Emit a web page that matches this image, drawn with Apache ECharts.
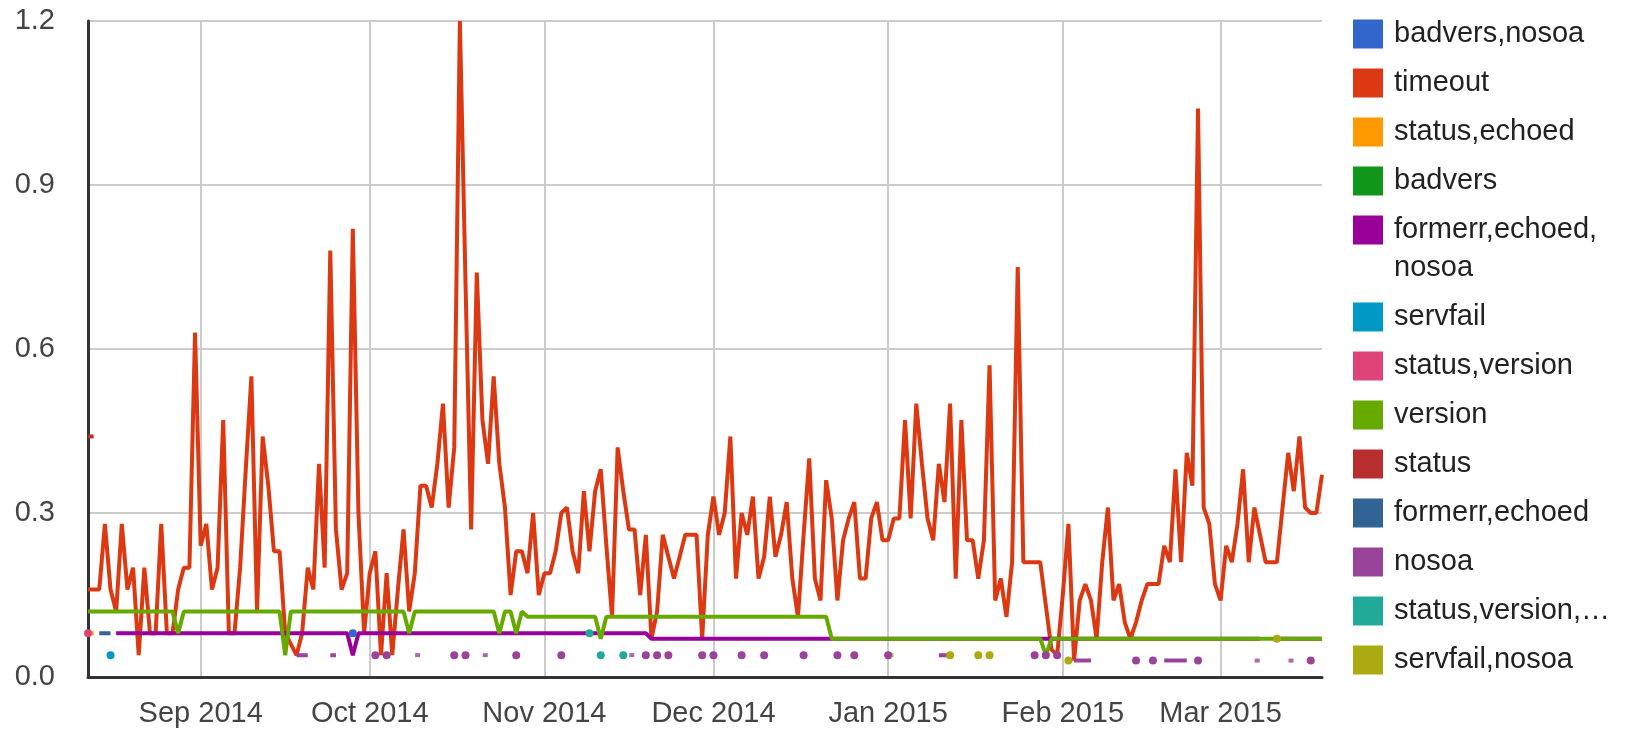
<!DOCTYPE html>
<html>
<head>
<meta charset="utf-8">
<script src="https://cdn.jsdelivr.net/npm/echarts@6.0.0/dist/echarts.min.js"></script>
<style>
html, body { margin: 0; padding: 0; background: #fff; }
#chart { width: 1626px; height: 732px; }
</style>
</head>
<body>
<div id="chart"></div>
<script>
// daily categories, 2014-08-12 .. 2015-03-19
const startDay = Date.UTC(2014, 7, 12);
const dayCount = 220;
const days = [];
for (let i = 0; i < dayCount; i++) {
    days.push(new Date(startDay + i * 86400000).toISOString().slice(0, 10));
}

const monthStarts = ['2014-09-01', '2014-10-01', '2014-11-01', '2014-12-01', '2015-01-01', '2015-02-01', '2015-03-01'];
const monthLabels = ['Sep 2014', 'Oct 2014', 'Nov 2014', 'Dec 2014', 'Jan 2015', 'Feb 2015', 'Mar 2015'];

const seriesNames = ['badvers,nosoa', 'timeout', 'status,echoed', 'badvers', 'formerr,echoed,nosoa',
    'servfail', 'status,version', 'version', 'status', 'formerr,echoed', 'nosoa',
    'status,version,\u2026', 'servfail,nosoa'];
const seriesColors = ['#3366cc', '#dc3912', '#ff9900', '#109618', '#990099', '#0099c6', '#dd4477',
    '#66aa00', '#b82e2e', '#316395', '#994499', '#22aa99', '#aaaa11'];

const timeout = [
    0.16, 0.16, 0.16, 0.28, 0.16, 0.12, 0.28, 0.16, 0.20, 0.04,
    0.20, 0.08, 0.08, 0.28, 0.08, 0.08, 0.16, 0.20, 0.20, 0.63,
    0.24, 0.28, 0.16, 0.20, 0.47, 0.08, 0.08, 0.20, 0.38, 0.55,
    0.12, 0.44, 0.35, 0.23, 0.23, 0.08, 0.06, 0.04, 0.08, 0.20,
    0.16, 0.39, 0.20, 0.78, 0.27, 0.16, 0.19, 0.82, 0.30, 0.08,
    0.19, 0.23, 0.04, 0.19, 0.04, 0.16, 0.27, 0.12, 0.19, 0.35,
    0.35, 0.31, 0.39, 0.50, 0.31, 0.42, 1.20, 0.72, 0.27, 0.74,
    0.47, 0.39, 0.55, 0.39, 0.31, 0.15, 0.23, 0.23, 0.19, 0.30,
    0.15, 0.19, 0.19, 0.23, 0.30, 0.31, 0.23, 0.19, 0.34, 0.23,
    0.34, 0.38, 0.24, 0.11, 0.42, 0.34, 0.27, 0.27, 0.15, 0.26,
    0.07, 0.12, 0.26, 0.22, 0.18, 0.22, 0.26, 0.26, 0.26, 0.07,
    0.26, 0.33, 0.26, 0.30, 0.44, 0.18, 0.30, 0.26, 0.33, 0.18,
    0.22, 0.33, 0.22, 0.26, 0.32, 0.18, 0.11, 0.26, 0.40, 0.18,
    0.14, 0.36, 0.29, 0.14, 0.25, 0.29, 0.32, 0.18, 0.18, 0.29,
    0.32, 0.25, 0.25, 0.29, 0.29, 0.47, 0.29, 0.50, 0.39, 0.29,
    0.25, 0.39, 0.32, 0.50, 0.18, 0.47, 0.25, 0.25, 0.18, 0.25,
    0.57, 0.14, 0.18, 0.11, 0.21, 0.75, 0.21, 0.21, 0.21, 0.21,
    0.13, 0.05, 0.04, 0.15, 0.28, 0.03, 0.14, 0.17, 0.14, 0.07,
    0.21, 0.31, 0.14, 0.17, 0.10, 0.07, 0.10, 0.14, 0.17, 0.17,
    0.17, 0.24, 0.21, 0.38, 0.21, 0.41, 0.35, 1.04, 0.31, 0.28,
    0.17, 0.14, 0.24, 0.21, 0.28, 0.38, 0.21, 0.31, 0.26, 0.21,
    0.21, 0.21, 0.31, 0.41, 0.34, 0.44, 0.31, 0.30, 0.30, 0.37
];

const version = [
    0.12, 0.12, 0.12, 0.12, 0.12, 0.12, 0.12, 0.12, 0.12, 0.12, 0.12, 0.12, 0.12, 0.12, 0.12, 0.12, 0.08, 0.12, 0.12, 0.12,
    0.12, 0.12, 0.12, 0.12, 0.12, 0.12, 0.12, 0.12, 0.12, 0.12, 0.12, 0.12, 0.12, 0.12, 0.12, 0.04, 0.12, 0.12, 0.12, 0.12,
    0.12, 0.12, 0.12, 0.12, 0.12, 0.12, 0.12, 0.12, 0.12, 0.12, 0.12, 0.12, 0.12, 0.12, 0.12, 0.12, 0.12, 0.08, 0.12, 0.12,
    0.12, 0.12, 0.12, 0.12, 0.12, 0.12, 0.12, 0.12, 0.12, 0.12, 0.12, 0.12, 0.12, 0.08, 0.12, 0.12, 0.08, 0.12, 0.11, 0.11,
    0.11, 0.11, 0.11, 0.11, 0.11, 0.11, 0.11, 0.11, 0.11, 0.11, 0.11, 0.07, 0.11, 0.11, 0.11, 0.11, 0.11, 0.11, 0.11, 0.11,
    0.11, 0.11, 0.11, 0.11, 0.11, 0.11, 0.11, 0.11, 0.11, 0.11, 0.11, 0.11, 0.11, 0.11, 0.11, 0.11, 0.11, 0.11, 0.11, 0.11,
    0.11, 0.11, 0.11, 0.11, 0.11, 0.11, 0.11, 0.11, 0.11, 0.11, 0.11, 0.11, 0.07, 0.07, 0.07, 0.07, 0.07, 0.07, 0.07, 0.07,
    0.07, 0.07, 0.07, 0.07, 0.07, 0.07, 0.07, 0.07, 0.07, 0.07, 0.07, 0.07, 0.07, 0.07, 0.07, 0.07, 0.07, 0.07, 0.07, 0.07,
    0.07, 0.07, 0.07, 0.07, 0.07, 0.07, 0.07, 0.07, 0.07, 0.07, 0.04, 0.07, 0.07, 0.07, 0.07, 0.07, 0.07, 0.07, 0.07, 0.07,
    0.07, 0.07, 0.07, 0.07, 0.07, 0.07, 0.07, 0.07, 0.07, 0.07, 0.07, 0.07, 0.07, 0.07, 0.07, 0.07, 0.07, 0.07, 0.07, 0.07,
    0.07, 0.07, 0.07, 0.07, 0.07, 0.07, 0.07, 0.07, 0.07, 0.07, 0.07, 0.07, 0.07, 0.07, 0.07, 0.07, 0.07, 0.07, 0.07, 0.07
];

const formerrEchoedNosoa = [
    null, null, null, null, null, 0.08, 0.08, 0.08, 0.08, 0.08, 0.08, 0.08, 0.08, 0.08, 0.08, 0.08, 0.08, 0.08, 0.08, 0.08,
    0.08, 0.08, 0.08, 0.08, 0.08, 0.08, 0.08, 0.08, 0.08, 0.08, 0.08, 0.08, 0.08, 0.08, 0.08, 0.08, 0.08, 0.08, 0.08, 0.08,
    0.08, 0.08, 0.08, 0.08, 0.08, 0.08, 0.08, 0.04, 0.08, 0.08, 0.08, 0.08, 0.08, 0.08, 0.08, 0.08, 0.08, 0.08, 0.08, 0.08,
    0.08, 0.08, 0.08, 0.08, 0.08, 0.08, 0.08, 0.08, 0.08, 0.08, 0.08, 0.08, 0.08, 0.08, 0.08, 0.08, 0.08, 0.08, 0.08, 0.08,
    0.08, 0.08, 0.08, 0.08, 0.08, 0.08, 0.08, 0.08, 0.08, 0.08, 0.08, 0.08, 0.08, 0.08, 0.08, 0.08, 0.08, 0.08, 0.08, 0.08,
    0.07, 0.07, 0.07, 0.07, 0.07, 0.07, 0.07, 0.07, 0.07, 0.07, 0.07, 0.07, 0.07, 0.07, 0.07, 0.07, 0.07, 0.07, 0.07, 0.07,
    0.07, 0.07, 0.07, 0.07, 0.07, 0.07, 0.07, 0.07, 0.07, 0.07, 0.07, 0.07, 0.07, 0.07, 0.07, 0.07, 0.07, 0.07, 0.07, 0.07,
    0.07, 0.07, 0.07, 0.07, 0.07, 0.07, 0.07, 0.07, 0.07, 0.07, 0.07, 0.07, 0.07, 0.07, 0.07, 0.07, 0.07, 0.07, 0.07, 0.07,
    0.07, 0.07, 0.07, 0.07, 0.07, 0.07, 0.07, 0.07, 0.07, 0.07, 0.07, 0.07, 0.07, 0.07, 0.07, 0.07, 0.07, 0.07, 0.07, 0.07,
    0.07, 0.07, 0.07, 0.07, 0.07, 0.07, 0.07, 0.07, 0.07, 0.07, 0.07, 0.07, 0.07, 0.07, 0.07, 0.07, 0.07, 0.07, 0.07, 0.07,
    0.07, 0.07, 0.07, 0.07, 0.07, 0.07, 0.07, 0.07, 0.07, null, null, 0.07, 0.07, 0.07, 0.07, 0.07, 0.07, 0.07, 0.07, 0.07
];

// sparse series: [day index, value]
const badversNosoaPts = [[47, 0.08]];
const statusEchoedPts = [[0, 0.08], [1, 0.08]];
const badversPts = [];
const servfailPts = [[4, 0.04]];
const statusVersionPts = [[0, 0.08]];
const statusPts = [[0, 0.44], [1, 0.44]];
const formerrEchoedPts = [[2, 0.08], [3, 0.08], [4, 0.08]];
const nosoaPts = [
    [37, 0.04], [38, 0.04], [39, 0.04], [43, 0.04], [44, 0.04], [51, 0.04], [53, 0.04], [65, 0.04],
    [67, 0.04], [76, 0.04], [84, 0.04], [99, 0.04], [101, 0.04], [103, 0.04], [109, 0.04], [111, 0.04],
    [116, 0.04], [120, 0.04], [127, 0.04], [133, 0.04], [136, 0.04], [142, 0.04], [151, 0.04], [152, 0.04],
    [153, 0.04], [168, 0.04], [170, 0.04], [172, 0.04], [175, 0.03], [176, 0.03], [177, 0.03], [178, 0.03],
    [186, 0.03], [189, 0.03], [191, 0.03], [192, 0.03], [193, 0.03], [194, 0.03], [195, 0.03], [197, 0.03],
    [217, 0.03]
];
const statusVersionMorePts = [[89, 0.08], [91, 0.04], [95, 0.04]];
const servfailNosoaPts = [[153, 0.04], [158, 0.04], [160, 0.04], [174, 0.03], [211, 0.07]];

// short marks sitting between two days
const nosoaTicks = [[58.5, 0.04], [70.5, 0.04], [96.5, 0.04], [207.5, 0.03], [213.5, 0.03]];
const servfailNosoaTicks = [[142.5, 0.04]];

function expand(pts)
{
    let arr = new Array(dayCount).fill(null);
    pts.forEach(p => { arr[p[0]] = p[1]; });
    return arr;
}

const lineData = [
    expand(badversNosoaPts), timeout, expand(statusEchoedPts), expand(badversPts), formerrEchoedNosoa,
    expand(servfailPts), expand(statusVersionPts), version, expand(statusPts), expand(formerrEchoedPts),
    expand(nosoaPts), expand(statusVersionMorePts), expand(servfailNosoaPts)
];

const font = '"Liberation Sans", Arial, sans-serif';
const fontSize = 29;

let series = lineData.map((data, i) =>
{
    // isolated points are shown as dots
    let lone = data.map((v, k) => v !== null && (k === 0 || data[k - 1] === null) && (k === data.length - 1 || data[k + 1] === null));
    return {
        name: seriesNames[i],
        type: 'line',
        data: data,
        connectNulls: false,
        symbol: 'circle',
        showSymbol: true,
        showAllSymbol: true,
        symbolSize: function (val, params) { return lone[params.dataIndex] ? 8 : 0; },
        lineStyle: {color: seriesColors[i], width: 4},
        itemStyle: {color: seriesColors[i]},
        emphasis: {disabled: true}
    };
});

series.push({
    name: 'nosoa', type: 'scatter', xAxisIndex: 1, data: nosoaTicks,
    symbol: 'rect', symbolSize: [5, 4], itemStyle: {color: '#994499'}
});
series.push({
    name: 'servfail,nosoa', type: 'scatter', xAxisIndex: 1, data: servfailNosoaTicks,
    symbol: 'rect', symbolSize: [5, 4], itemStyle: {color: '#aaaa11'}
});

const legendText = {color: '#222', fontSize: fontSize, fontFamily: font, lineHeight: 38, padding: [0, 0, 0, 6]};
const isMonth = (idx, val) => monthStarts.indexOf(val) >= 0;

let myChart = echarts.init(document.getElementById('chart'));

let option = {
    animation: false,
    textStyle: {fontFamily: font},
    grid: {left: 88, right: 304, top: 21, bottom: 55},
    legend: [{
        orient: 'vertical', left: 1353, top: 15, padding: 0, itemGap: 11,
        itemWidth: 30, itemHeight: 29, icon: 'rect', selectedMode: false,
        data: seriesNames.slice(0, 5),
        formatter: name => name === 'formerr,echoed,nosoa' ? 'formerr,echoed,' : name,
        textStyle: legendText
    }, {
        orient: 'vertical', left: 1353, top: 298, padding: 0, itemGap: 11,
        itemWidth: 30, itemHeight: 29, icon: 'rect', selectedMode: false,
        data: seriesNames.slice(5),
        textStyle: legendText
    }],
    graphic: [{
        type: 'text', left: 1394, top: 249,
        style: {text: 'nosoa', fill: '#222', fontSize: fontSize, fontFamily: font, lineHeight: 38}
    }],
    xAxis: [{
        type: 'category',
        data: days,
        boundaryGap: false,
        axisLine: {show: true, lineStyle: {color: '#333', width: 3}},
        axisTick: {show: false},
        axisLabel: {
            interval: isMonth,
            formatter: v => monthLabels[monthStarts.indexOf(v)],
            color: '#444', fontSize: fontSize, margin: 22
        },
        splitLine: {show: true, interval: isMonth, lineStyle: {color: '#ccc', width: 2}}
    }, {
        type: 'value', min: 0, max: dayCount - 1, show: false
    }],
    yAxis: {
        type: 'value',
        min: 0,
        max: 1.2,
        interval: 0.3,
        axisLine: {show: true, lineStyle: {color: '#333', width: 3}},
        axisTick: {show: false},
        axisLabel: {formatter: v => v.toFixed(1), color: '#444', fontSize: fontSize, margin: 33},
        splitLine: {lineStyle: {color: '#ccc', width: 2}}
    },
    series: series
};

myChart.setOption(option);
</script>
</body>
</html>
